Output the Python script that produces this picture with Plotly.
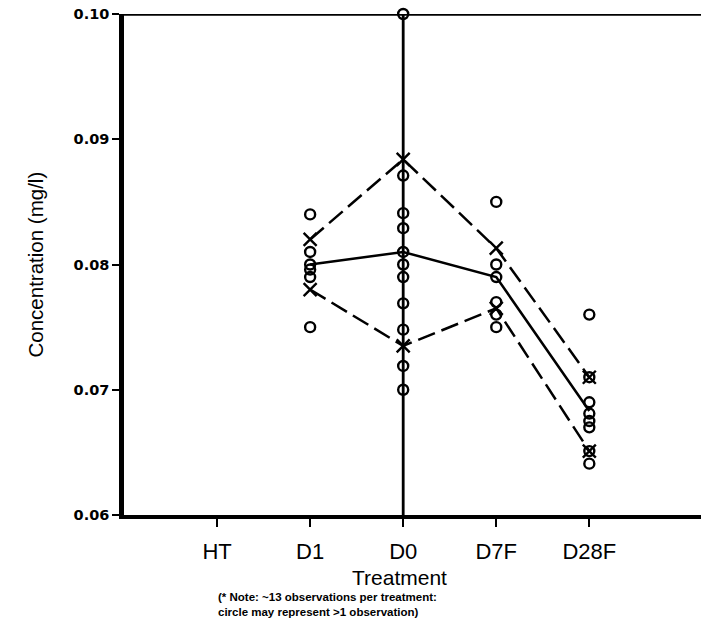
import plotly.graph_objects as go

# Treatment categories along the x axis (HT has no measurements)
treatments = ["HT", "D1", "D0", "D7F", "D28F"]
positions = [1, 2, 3, 4, 5]

# Individual observations (mg/l); one circle may stand for several values
obs_d1 = [0.0840, 0.0810, 0.0800, 0.0796, 0.0790, 0.0750]
obs_d0 = [0.1000, 0.0871, 0.0841, 0.0829, 0.0810, 0.0800, 0.0790,
          0.0769, 0.0748, 0.0719, 0.0700]
obs_d7f = [0.0850, 0.0800, 0.0790, 0.0770, 0.0760, 0.0750]
obs_d28f = [0.0760, 0.0710, 0.0690, 0.0681, 0.0675, 0.0670, 0.0651, 0.0641]

# Summary lines for D1, D0, D7F, D28F
line_treatments = ["D1", "D0", "D7F", "D28F"]
upper_vals = [0.0820, 0.0884, 0.0813, 0.0710]
mean_vals = [0.0800, 0.0810, 0.0790, 0.0683]
lower_vals = [0.0780, 0.0735, 0.0765, 0.0651]

pos = dict(zip(treatments, positions))
obs = {"D1": obs_d1, "D0": obs_d0, "D7F": obs_d7f, "D28F": obs_d28f}

ink = "#000000"
fig = go.Figure()

# observation circles
ox, oy = [], []
for t, vals in obs.items():
    ox += [pos[t]] * len(vals)
    oy += vals
fig.add_trace(go.Scatter(
    x=ox, y=oy, mode="markers", cliponaxis=False,
    marker=dict(symbol="circle-open", size=10, color=ink, line=dict(width=2.4, color=ink)),
    hoverinfo="skip"))

lx = [pos[t] for t in line_treatments]
dash = "18px,7px"
# upper and lower bounds: dashed lines with X markers
for vals in (upper_vals, lower_vals):
    fig.add_trace(go.Scatter(
        x=lx, y=vals, mode="lines+markers",
        line=dict(color=ink, width=2.5, dash=dash),
        marker=dict(symbol="x-thin-open", size=13, color=ink, line=dict(width=2.4, color=ink)),
        hoverinfo="skip"))
# mean: solid line
fig.add_trace(go.Scatter(
    x=lx, y=mean_vals, mode="lines", line=dict(color=ink, width=2.5), hoverinfo="skip"))

x_max = 6.2
fig.update_layout(
    width=701, height=623,
    margin=dict(l=124, r=0, t=14, b=108),
    paper_bgcolor="white", plot_bgcolor="white",
    showlegend=False,
    font=dict(family="Liberation Sans", color=ink),
    xaxis=dict(
        range=[0, x_max], tickmode="array", tickvals=positions, ticktext=treatments,
        showgrid=False, zeroline=False,
        showline=True, linewidth=3.5, linecolor=ink,
        ticks="outside", ticklen=8, tickwidth=2, tickcolor=ink,
        ticklabelstandoff=6,
        tickfont=dict(family="Liberation Sans", size=22, color=ink)),
    yaxis=dict(
        range=[0.06, 0.10], tickmode="array", tickvals=[0.06, 0.07, 0.08, 0.09, 0.10],
        tickformat=".2f",
        showgrid=False, zeroline=False,
        showline=True, linewidth=4.5, linecolor=ink,
        ticks="outside", ticklen=7, tickwidth=2, tickcolor=ink,
        tickfont=dict(family="DejaVu Sans", size=14.5, color=ink, weight="bold")),
    shapes=[
        # top frame line
        dict(type="line", xref="paper", yref="y", x0=0, x1=1, y0=0.10, y1=0.10,
             line=dict(color=ink, width=3.5)),
        # vertical reference line at D0
        dict(type="line", xref="x", yref="paper", x0=pos["D0"], x1=pos["D0"], y0=0, y1=1,
             line=dict(color=ink, width=2.8)),
    ],
    annotations=[
        dict(text="Concentration (mg/l)", textangle=-90, showarrow=False,
             xref="paper", yref="paper", x=-89 / 577, y=0.5, xanchor="center", yanchor="middle",
             font=dict(family="Liberation Sans", size=20.5, color=ink)),
        dict(text="Treatment", showarrow=False,
             xref="x", yref="paper", x=2.96, y=-62 / 501, xanchor="center", yanchor="middle",
             font=dict(family="Liberation Sans", size=21, color=ink)),
        dict(text="(* Note: ~13 observations per treatment:<br>"
                  "circle may represent >1 observation)",
             showarrow=False, align="left",
             xref="paper", yref="paper", x=92 / 577, y=-89 / 501, xanchor="left", yanchor="middle",
             font=dict(family="Liberation Sans", size=11.5, color=ink, weight="bold")),
    ],
)

fig.write_html("out.html")
